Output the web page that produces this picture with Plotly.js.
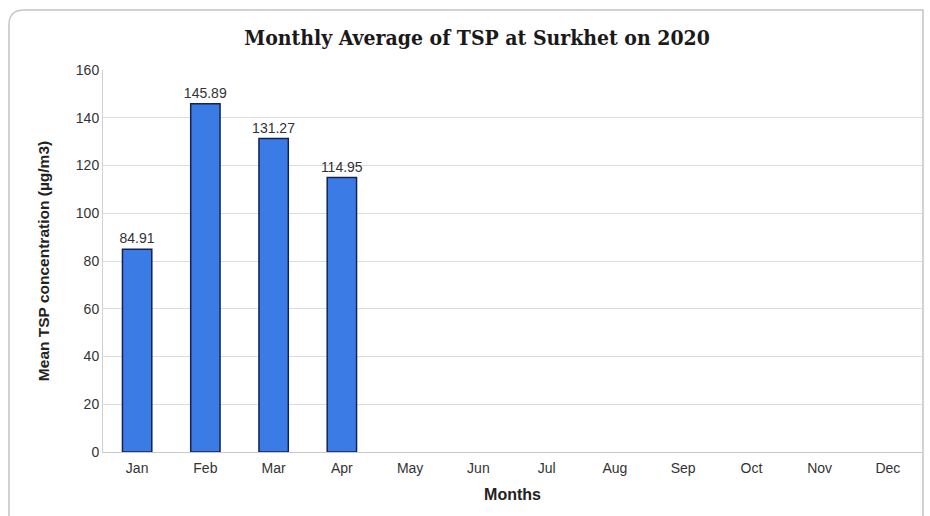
<!DOCTYPE html>
<html>
<head>
<meta charset="utf-8">
<script src="https://cdn.plot.ly/plotly-3.0.1.min.js"></script>
<style>html,body{margin:0;padding:0;background:#fff;}#chart{width:930px;height:516px;}</style>
</head>
<body>
<div id="chart"></div>
<script>
const months = ["Jan","Feb","Mar","Apr","May","Jun","Jul","Aug","Sep","Oct","Nov","Dec"];
const tspValues = [84.91, 145.89, 131.27, 114.95, null, null, null, null, null, null, null, null];
const valueLabels = ["84.91","145.89","131.27","114.95","","","","","","","",""];
const yTicks = [0,20,40,60,80,100,120,140,160];

const trace = {
  type: "bar",
  x: months,
  y: tspValues,
  text: valueLabels,
  textposition: "outside",
  constraintext: "none",
  cliponaxis: false,
  textfont: {family: "Liberation Sans, Arial, sans-serif", size: 14, color: "#333"},
  marker: {color: "#3b7be6", line: {color: "#14224f", width: 1.5}},
  hoverinfo: "x+y"
};

const layout = {
  width: 930, height: 516,
  margin: {l: 103, r: 8, t: 70, b: 64},
  paper_bgcolor: "#fff",
  plot_bgcolor: "#fff",
  bargap: 0.57,
  showlegend: false,
  title: {
    text: "<b>Monthly Average of TSP at Surkhet on 2020</b>",
    font: {family: "DejaVu Serif Condensed, Liberation Serif, serif", size: 21, color: "#1a1a1a"},
    x: 0.513, xanchor: "center", y: 0.928, yanchor: "middle"
  },
  xaxis: {
    type: "category",
    categoryorder: "array", categoryarray: months,
    range: [-0.5, 11.5],
    showline: true, linecolor: "#c8c8c8", linewidth: 1,
    ticks: "outside", ticklen: 3, tickcolor: "rgba(0,0,0,0)", showgrid: false,
    tickfont: {family: "Liberation Sans, Arial, sans-serif", size: 14, color: "#333"},
    title: {text: "<b>Months</b>", font: {family: "Liberation Sans, Arial, sans-serif", size: 16, color: "#222"}, standoff: 14}
  },
  yaxis: {
    range: [0, 160],
    tickvals: yTicks,
    showline: true, linecolor: "#d0d0d0", linewidth: 1,
    showgrid: true, gridcolor: "#dcdcdc", gridwidth: 1,
    zeroline: false,
    ticks: "", ticklen: 0,
    tickfont: {family: "Liberation Sans, Arial, sans-serif", size: 14, color: "#333"},
    title: {text: "<b>Mean TSP concentration (µg/m3)</b>", font: {family: "Liberation Sans, Arial, sans-serif", size: 15.5, color: "#222"}, standoff: 22}
  },
  shapes: [{
    type: "path", xref: "paper", yref: "paper", layer: "below",
    path: "M -0.1148,-0.2 L -0.1148,1.118 Q -0.1148,1.157 -0.0965,1.157 L 1.0012,1.157 L 1.0012,-0.2",
    line: {color: "#c4c4c4", width: 1.5}, fillcolor: "rgba(0,0,0,0)"
  }]
};

Plotly.newPlot("chart", [trace], layout, {displayModeBar: false, staticPlot: true});
</script>
</body>
</html>
